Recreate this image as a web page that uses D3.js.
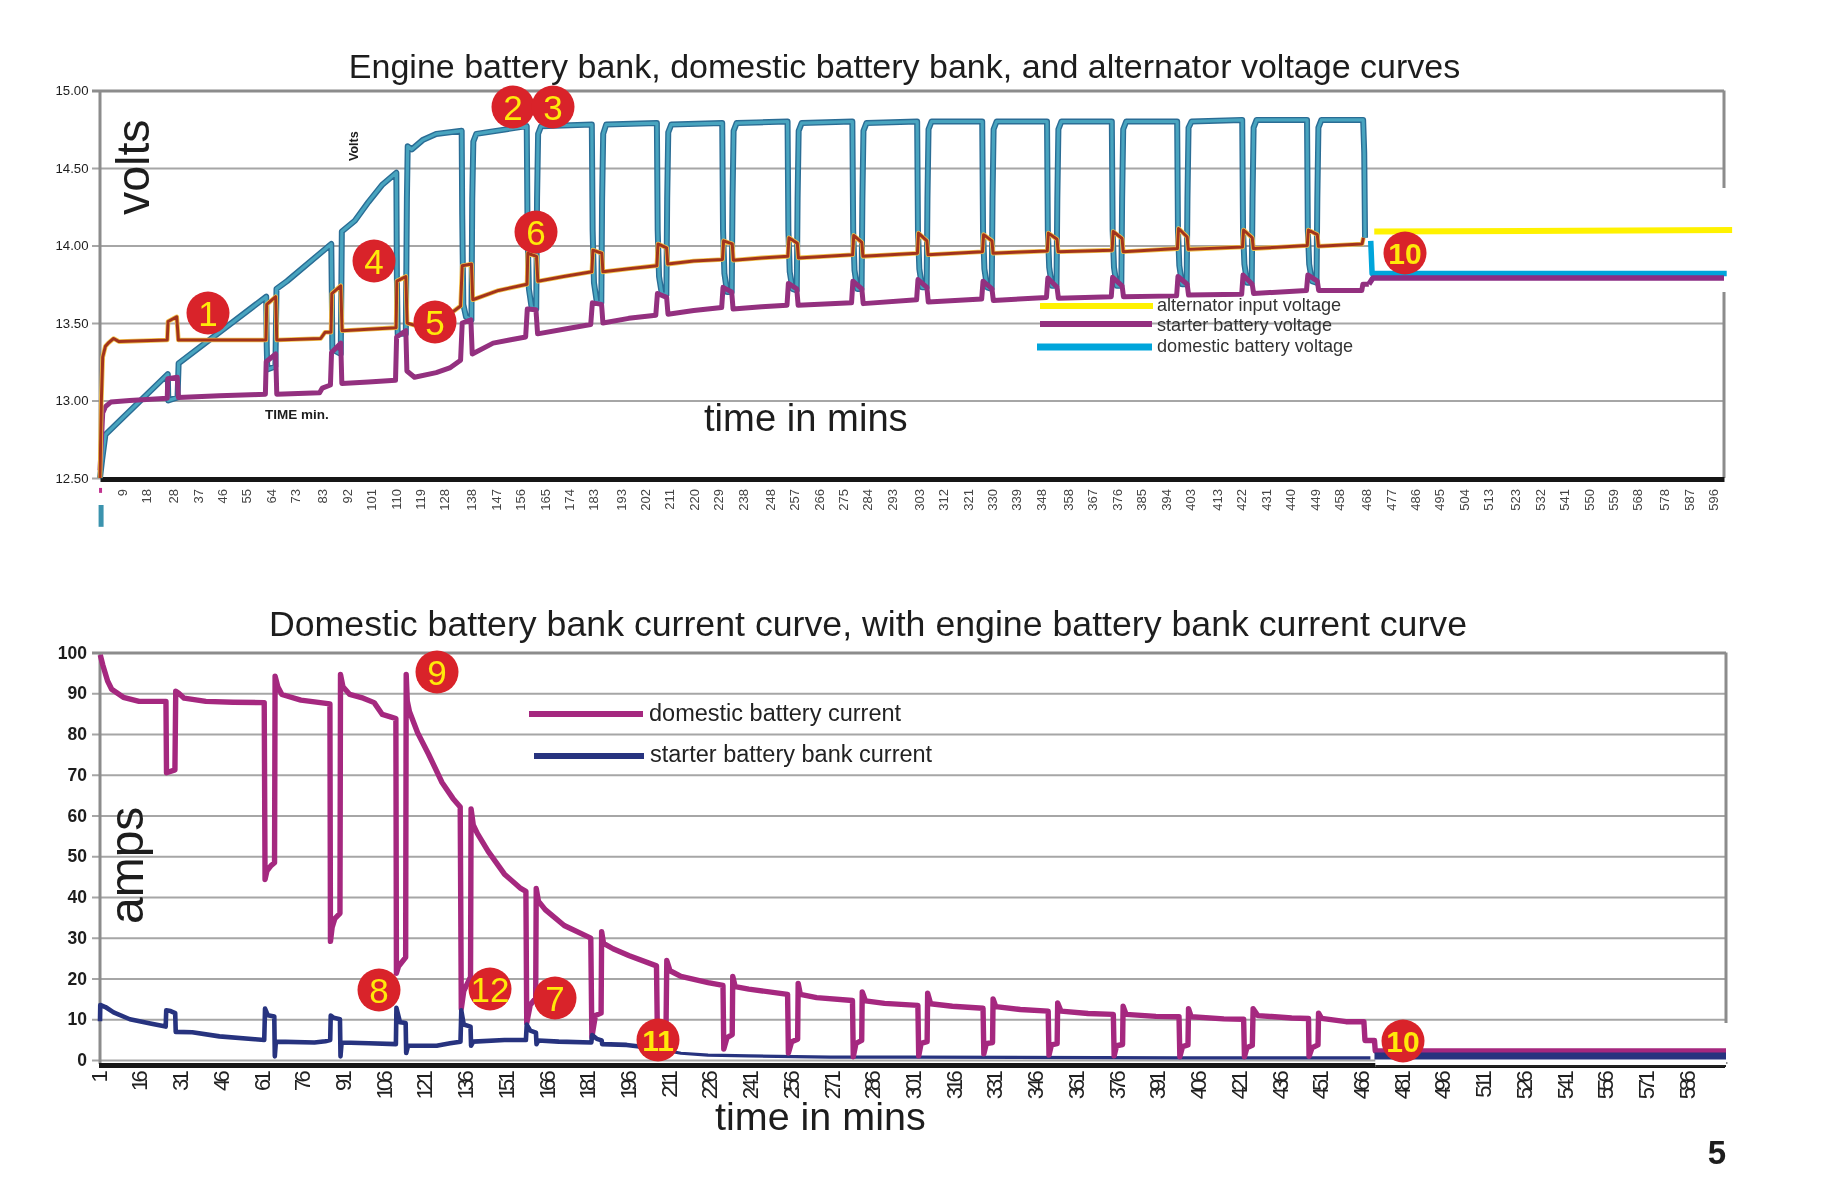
<!DOCTYPE html>
<html><head><meta charset="utf-8">
<script src="https://cdn.jsdelivr.net/npm/d3@7"></script>
<style>html,body{margin:0;padding:0;background:#fff}svg{display:block;filter:blur(0.45px)}text{font-family:"Liberation Sans",Arial,sans-serif}</style>
</head><body><div id="chart"></div>
<script>
// ---------- DATA ----------
const voltTicks=[12.5,13,13.5,14,14.5,15];
const ampTicks=[0,10,20,30,40,50,60,70,80,90,100];
const voltTimeLabels=[9,18,28,37,46,55,64,73,83,92,101,110,119,128,138,147,156,165,174,183,193,202,211,220,229,238,248,257,266,275,284,293,303,312,321,330,339,348,358,367,376,385,394,403,413,422,431,440,449,458,468,477,486,495,504,513,523,532,541,550,559,568,578,587,596];
const ampTimeLabels=[1,16,31,46,61,76,91,106,121,136,151,166,181,196,211,226,241,256,271,286,301,316,331,346,361,376,391,406,421,436,451,466,481,496,511,526,541,556,571,586];

const domesticVolts=[[1,12.5],[1.8,12.62],[3,12.78],[26,13.17],[26.2,13.0],[29.6,13.02],[30,13.24],[62.3,13.67],[62.5,13.35],[62.7,13.2],[65.7,13.22],[66.1,13.72],[70,13.77],[86.3,14.01],[86.5,13.7],[86.7,13.33],[89.8,13.3],[90.2,14.09],[95,14.16],[100,14.28],[105,14.39],[110.3,14.47],[110.5,13.8],[110.8,13.43],[113.8,13.43],[114.2,14.3],[114.5,14.64],[116,14.62],[120,14.68],[125,14.72],[134.4,14.74],[134.6,14.2],[135,13.62],[136,13.54],[138,13.52],[138.3,14.3],[138.7,14.67],[139.8,14.72],[158.4,14.77],[158.7,14.1],[159.2,13.72],[160.2,13.6],[161.9,13.59],[162.2,14.3],[162.6,14.72],[163.7,14.77],
[182.4,14.78],[182.7,14.1],[183.2,13.76],[184.2,13.64],[185.9,13.63],[186.2,14.3],[186.6,14.72],[187.7,14.78],
[206.4,14.79],[206.7,14.1],[207.2,13.8],[208.2,13.69],[209.9,13.68],[210.2,14.3],[210.6,14.73],[211.7,14.78],
[230.5,14.79],[230.8,14.1],[231.3,13.82],[232.3,13.7],[234,13.7],[234.3,14.3],[234.7,14.74],[235.8,14.79],
[254.6,14.8],[254.9,14.1],[255.4,13.83],[256.4,13.72],[258,13.71],[258.3,14.3],[258.7,14.74],[259.8,14.79],
[278.5,14.8],[278.8,14.1],[279.3,13.84],[280.3,13.72],[281.9,13.72],[282.2,14.3],[282.6,14.74],[283.7,14.79],
[302.4,14.8],[302.7,14.1],[303.2,13.85],[304.2,13.73],[305.9,13.73],[306.2,14.3],[306.6,14.75],[307.7,14.8],
[326.4,14.8],[326.7,14.1],[327.2,13.85],[328.2,13.73],[329.9,13.72],[330.2,14.3],[330.6,14.75],[331.7,14.8],
[350.3,14.8],[350.6,14.1],[351.1,13.86],[352.1,13.74],[353.8,13.74],[354.1,14.3],[354.5,14.75],[355.6,14.8],
[374.2,14.8],[374.5,14.1],[375,13.86],[376,13.74],[377.7,13.74],[378,14.3],[378.4,14.75],[379.5,14.8],
[398.3,14.8],[398.6,14.1],[399.1,13.87],[400.1,13.75],[401.8,13.75],[402.1,14.3],[402.5,14.76],[403.6,14.8],
[422.3,14.81],[422.6,14.1],[423.1,13.88],[424.1,13.76],[425.8,13.76],[426.1,14.3],[426.5,14.76],[427.6,14.81],
[446.2,14.81],[446.5,14.1],[447,13.88],[448,13.77],[449.7,13.76],[450,14.3],[450.4,14.76],[451.5,14.81],
[466.9,14.81],[467.3,14.6],[467.6,14.05]];

const starterVolts=[[1,12.55],[2,12.92],[3,12.96],[5,12.99],[12,13.0],[25.8,13.015],[26,13.14],[29.5,13.15],[29.9,13.02],[45,13.03],[62,13.04],[62.3,13.25],[65.8,13.3],[66.2,13.04],[82,13.05],[83,13.08],[86,13.1],[86.4,13.31],[89.8,13.37],[90.2,13.11],[100,13.12],[110,13.13],[110.4,13.41],[113.8,13.45],[114.2,13.19],[117,13.15],[125,13.18],[130,13.21],[134,13.26],[134.6,13.5],[137.8,13.52],[138.3,13.3],[146,13.37],[152,13.39],[158,13.41],[158.6,13.59],[161.8,13.585],[162.4,13.43],[172,13.46],[182,13.49],[182.6,13.63],[186,13.62],[186.5,13.5],[196,13.53],[206,13.55],[206.6,13.69],[210,13.665],[210.5,13.557],[220,13.58],[230.3,13.6],[230.8,13.73],[234,13.7],[234.5,13.59],[245,13.605],[254.4,13.615],[254.9,13.755],[258,13.72],[258.5,13.615],[278.2,13.63],[278.7,13.77],[282,13.72],[282.5,13.625],[302.2,13.65],[302.7,13.78],[306,13.73],[306.5,13.635],[326.2,13.655],[326.7,13.77],[330,13.72],[330.5,13.645],[350.1,13.665],[350.6,13.79],[354,13.73],[354.5,13.66],[374,13.67],[374.5,13.795],[378,13.74],[378.5,13.67],[398.1,13.675],[398.6,13.8],[402,13.75],[402.5,13.68],[422.1,13.685],[422.6,13.81],[426,13.75],[426.5,13.69],[446,13.71],[446.5,13.81],[450,13.77],[450.5,13.71],[466.4,13.71],[466.8,13.75],[469,13.75],[470.5,13.79],[600,13.79]];

const alternatorVolts=[[1,12.5],[1.5,13.0],[2,13.28],[3,13.35],[4,13.37],[6,13.4],[8,13.38],[25.8,13.39],[26.1,13.51],[29.3,13.54],[29.9,13.39],[62.2,13.39],[62.5,13.62],[65.8,13.67],[66.2,13.39],[82.4,13.4],[84,13.44],[86.2,13.44],[86.5,13.69],[89.8,13.74],[90.3,13.45],[100,13.46],[110.2,13.47],[110.5,13.77],[113.8,13.8],[114.3,13.5],[118,13.48],[125,13.52],[131,13.57],[134,13.61],[134.6,13.87],[138,13.88],[138.5,13.65],[148,13.71],[158.5,13.75],[158.8,13.95],[162,13.93],[162.5,13.77],[172,13.8],[182.4,13.83],[182.8,13.97],[186.1,13.95],[186.5,13.83],[196,13.85],[206.4,13.87],[206.8,14.01],[210,13.985],[210.4,13.88],[220,13.9],[230.6,13.91],[231,14.03],[234.2,14.01],[234.6,13.905],[245,13.92],[254.7,13.93],[255.1,14.05],[258.2,14.015],[258.6,13.92],[278.6,13.94],[279,14.065],[282,14.02],[282.4,13.93],[302.5,13.95],[302.9,14.08],[306,14.03],[306.4,13.94],[326.5,13.96],[326.9,14.07],[330,14.03],[330.4,13.95],[350.4,13.965],[350.8,14.08],[354,14.04],[354.4,13.96],[374.3,13.97],[374.7,14.09],[378,14.045],[378.4,13.96],[398.4,13.98],[398.8,14.11],[402,14.055],[402.4,13.975],[422.4,13.99],[422.8,14.1],[426,14.05],[426.4,13.98],[446.3,14.0],[446.7,14.1],[450,14.07],[450.4,13.995],[466.5,14.01],[467,14.05]];

const alternatorTail=[[471,14.09],[603,14.1]];
const domesticTail=[[469.7,14.03],[470.2,13.82],[601,13.82]];
const strayDomestic=[[1.4,12.326],[1.4,12.185]];
const strayStarter=[[1.2,12.436],[1.2,12.404]];

const domesticAmps=[[1.1,99.4],[2,97],[3.8,93],[5.3,91],[9.6,89],[15.4,88],[25.3,88],[25.5,70.5],[28.6,71.2],[28.9,90.5],[30,90],[32,88.8],[40,88],[50,87.8],[61.5,87.7],[61.8,44.3],[62.5,46.4],[64,47.7],[65.3,48.4],[65.5,94.2],[66.5,91.6],[68,89.7],[75,88.3],[85.7,87.4],[85.9,29.1],[86.5,32.5],[87.5,34.7],[89.4,36],[89.6,94.6],[90.5,91.6],[93,89.7],[98,88.8],[102,87.7],[105,84.8],[108,84.2],[110,83.8],[110.2,21.3],[111,23],[113.6,25.2],[113.8,94.6],[114.2,88.1],[115,85.5],[118,80.3],[122,75.1],[127,68.1],[131,64.2],[133.7,62.1],[134.1,12.6],[135,16.9],[137.5,20.4],[137.7,61.6],[138.5,57.7],[140,55.6],[144,51.2],[150,45.6],[156,42.1],[157.9,41.4],[158.2,9.1],[159.5,13.5],[161.5,15.2],[161.7,42.1],[162.5,39],[165,36.9],[172,33],[181.8,29.9],[182.2,5.6],[183.5,10.9],[185.6,11.5],[185.8,31.5],[186.5,28.6],[190,27.3],[196,25.6],[206,23.1],[206.4,3],[207.5,6],[209.5,7],[209.8,24.4],[211,21.9],[215,20.5],[225,19],[230.5,18.3],[230.8,2.7],[232,5.5],[233.9,6.2],[234.1,20.5],[235,18],[240,17.4],[254.3,16.1],[254.6,1.7],[255.8,4.5],[258,5.1],[258.2,18.8],[259,16.1],[265,15.3],[278.2,14.6],[278.5,0.8],[279.5,4.1],[281.6,4.8],[281.8,16.7],[283,14.5],[290,13.9],[302.3,13.4],[302.6,1],[303.5,4.1],[305.7,4.5],[305.9,16.4],[307,13.8],[315,13.2],[326.3,12.7],[326.6,1.5],[327.5,4],[329.8,4.3],[330,15],[331,13.1],[340,12.4],[350.3,12],[350.6,1.2],[351.5,3.7],[353.6,4],[353.8,14],[355,12],[365,11.4],[374.3,11.2],[374.6,1],[375.5,3.5],[377.7,3.8],[377.9,13.2],[379,11.2],[390,10.7],[398.5,10.6],[398.8,0.8],[399.8,3.3],[401.8,3.7],[402,12.6],[403,10.6],[415,10.1],[422.3,10],[422.6,0.8],[423.5,3],[425.5,3.6],[425.8,12.6],[427.5,10.9],[440,10.3],[446.2,10.2],[446.4,0.9],[447.5,3],[449.7,3.7],[449.9,11.5],[451,10.2],[460,9.4],[466.6,9.4],[467,4.8],[470.5,4.8],[470.8,2.2],[600,2.2]];

const starterAmps=[[1,9.5],[1.1,13.5],[3,13],[6,11.7],[12,10],[20,8.9],[25.2,8.2],[25.4,12.2],[27,12],[28.7,11.5],[28.9,6.9],[35,6.8],[45,5.8],[61.5,4.9],[61.8,12.6],[62.8,11],[65.2,10.7],[65.4,0.9],[65.8,4.5],[80,4.3],[84,4.6],[85.8,4.9],[86,10.9],[87,10.4],[89.4,10],[89.6,0.9],[90,4.3],[100,4.1],[110,3.9],[110.2,12.8],[111.5,9.3],[113.6,9.1],[113.8,1.7],[114.5,3.5],[125,3.5],[130,4.1],[133.8,4.5],[134.1,12.2],[135,8.7],[137.5,8.2],[137.7,3.5],[138.5,4.5],[150,4.9],[157.9,4.9],[158.2,8.7],[159.5,7.2],[161.6,6.7],[161.8,3.9],[162.5,4.8],[170,4.5],[182,4.3],[182.3,6.1],[184,5.2],[185.8,4.8],[186,3.9],[195,3.7],[206,2.8],[215,1.65],[225,1.2],[240,1],[270,0.7],[300,0.7],[400,0.5],[469,0.5],[470.5,1],[600,1]];

const badges=[
 {n:"1",x:208,y:313,b:0},{n:"2",x:513,y:107,b:0},{n:"3",x:553,y:107,b:0},{n:"4",x:374,y:261,b:0},{n:"5",x:435,y:322,b:0},{n:"6",x:536,y:232,b:0},{n:"10",x:1405,y:253,b:1},
 {n:"9",x:437,y:672,b:0},{n:"8",x:379,y:990,b:0},{n:"12",x:490,y:989,b:0},{n:"7",x:555,y:998,b:0},{n:"11",x:658,y:1040,b:1},{n:"10",x:1403,y:1041,b:1}];

const voltLegend=["alternator input voltage","starter battery voltage","domestic battery voltage"];
const ampLegend=["domestic battery current","starter battery bank current"];

// ---------- DRAW ----------
const W=1833,H=1203;
const svg=d3.select("#chart").append("svg").attr("width",W).attr("height",H);
const L=100,R1=1724,R2=1726;
const xV=d3.scaleLinear().domain([1,600]).range([L,R1]);
const yV=d3.scaleLinear().domain([12.5,15]).range([478,90.5]);
const xA=d3.scaleLinear().domain([1,600]).range([L,R2]);
const yA=d3.scaleLinear().domain([0,100]).range([1060,652.5]);
const GRID="#a6a6a6",FRAME="#8c8c8c",TXT="#1d1d1d";
const line=(x,y)=>d3.line().x(d=>x(d[0])).y(d=>y(d[1]));
const lv=line(xV,yV),la=line(xA,yA);
function stroke(g,d,gen,color,w){g.append("path").attr("d",gen(d)).attr("fill","none").attr("stroke",color).attr("stroke-width",w).attr("stroke-linejoin","round");}
function text(s,x,y,size,o={}){const t=svg.append("text").attr("x",x).attr("y",y).attr("font-size",size).attr("fill",o.fill||TXT).attr("font-weight",o.bold?"bold":"normal").attr("text-anchor",o.anchor||"start").text(s);if(o.rot!=null)t.attr("transform",`rotate(${o.rot} ${x} ${y})`);return t;}

function frame(y,x,R,fmt,ticks,size,bold,labelX){
  const g=svg.append("g");
  const ax=d3.axisLeft(y).tickValues(ticks).tickSize(0).tickFormat(fmt);
  const a=g.append("g").attr("transform",`translate(${L},0)`).call(ax);
  a.select(".domain").remove();
  a.selectAll(".tick").each(function(v){
    const t=d3.select(this);
    t.select("line").attr("x1",-8).attr("x2",R-L).attr("stroke",v===y.domain()[1]?FRAME:GRID).attr("stroke-width",v===y.domain()[1]?3:2);
    t.select("text").attr("x",labelX-L).attr("font-size",size).attr("font-weight",bold?"bold":"normal").attr("fill",TXT).attr("font-family",'"Liberation Sans",Arial,sans-serif');
  });
  return g;
}
// --- top chart
frame(yV,xV,R1,d3.format(".2f"),voltTicks,13.2,false,88.5);
svg.append("line").attr("x1",L).attr("x2",L).attr("y1",yV(15)).attr("y2",yV(12.5)).attr("stroke",FRAME).attr("stroke-width",3);
svg.append("line").attr("x1",R1).attr("x2",R1).attr("y1",yV(15)).attr("y2",yV(12.5)).attr("stroke",FRAME).attr("stroke-width",3);
const xAxisV=svg.append("g").attr("transform",`translate(0,479)`).call(d3.axisBottom(xV).tickValues(voltTimeLabels).tickSize(0).tickFormat(d3.format("d")));
xAxisV.select(".domain").attr("stroke","#161616").attr("stroke-width",5);
xAxisV.selectAll("text").attr("transform","rotate(-90)").attr("x",-10).attr("y",0).attr("dy","0.35em").attr("text-anchor","end").attr("font-size",13).attr("fill","#444").attr("font-family",'"Liberation Sans",Arial,sans-serif');

const gV=svg.append("g");
stroke(gV,domesticVolts,lv,"#2a6d95",6);
stroke(gV,domesticVolts,lv,"#48a4bf",3.2);
stroke(gV,starterVolts.filter(d=>d[0]<=469),lv,"#93307f",5);
stroke(gV,alternatorVolts,lv,"#f2c24a",4.6);
stroke(gV,alternatorVolts,lv,"#a2331c",3);
stroke(gV,strayDomestic,lv,"#3b93ae",5);
stroke(gV,strayStarter,lv,"#c0328f",3);

// white patch that hides the end of the original plot
svg.append("rect").attr("x",xV(470.5)).attr("y",188).attr("width",1743-xV(470.5)).attr("height",104).attr("fill","#fff");
const tailG=svg.append("g");
stroke(tailG,domesticTail,lv,"#00a5db",5.5);
stroke(tailG,alternatorTail,lv,"#fff200",6);
stroke(tailG,starterVolts.filter(d=>d[0]>=469),lv,"#8c2e84",5.5);

text("Engine battery bank, domestic battery bank, and alternator voltage curves",904.5,78,34,{anchor:"middle"});
text("volts",149,215,46.5,{rot:-90});
text("Volts",358,161,12.5,{rot:-90,bold:true});
text("TIME min.",265,419,13.5,{bold:true});
text("time in mins",704,431,38.2);

const voltLegendRows=[{c:"#fff200",x1:1040,x2:1153,y:306,w:6,ty:311},{c:"#93307f",x1:1040,x2:1152,y:324,w:6,ty:331},{c:"#00a5db",x1:1037,x2:1152,y:347,w:7,ty:352}];
voltLegendRows.forEach((r,i)=>{svg.append("line").attr("x1",r.x1).attr("x2",r.x2).attr("y1",r.y).attr("y2",r.y).attr("stroke",r.c).attr("stroke-width",r.w);text(voltLegend[i],1157,r.ty,18.1,{fill:"#333"});});

// --- bottom chart
frame(yA,xA,R2,d3.format("d"),ampTicks,17.5,true,87);
svg.append("line").attr("x1",L).attr("x2",L).attr("y1",yA(100)).attr("y2",1064).attr("stroke",FRAME).attr("stroke-width",3);
svg.append("line").attr("x1",R2).attr("x2",R2).attr("y1",yA(100)).attr("y2",1064).attr("stroke",FRAME).attr("stroke-width",3);
const xAxisA=svg.append("g").attr("transform",`translate(-1.5,1065)`).call(d3.axisBottom(xA).tickValues(ampTimeLabels).tickSize(0).tickFormat(d3.format("d")));
xAxisA.select(".domain").attr("stroke","#161616").attr("stroke-width",5);
xAxisA.selectAll("text").attr("transform","rotate(-90)").attr("x",-9).attr("y",0).attr("dy","0.35em").attr("text-anchor","end").attr("font-size",22).attr("letter-spacing","-3.8px").attr("fill","#222").attr("font-family",'"Liberation Sans",Arial,sans-serif');

// white patch over the end of the lower plot
svg.append("rect").attr("x",xA(470.8)).attr("y",1023).attr("width",1735-xA(470.8)).attr("height",39).attr("fill","#fff");
svg.append("rect").attr("x",xA(470.8)).attr("y",1062).attr("width",R2-xA(470.8)).attr("height",5).attr("fill","#fff");
svg.append("line").attr("x1",xA(470.8)).attr("x2",R2).attr("y1",1066).attr("y2",1066).attr("stroke","#222").attr("stroke-width",2);

const gA=svg.append("g");
stroke(gA,starterAmps.filter(d=>d[0]>=206&&d[0]<=469),la,"#27337f",3.2);
stroke(gA,domesticAmps,la,"#a5287f",5.4);
stroke(gA,starterAmps.filter(d=>d[0]<=206),la,"#27337f",4.6);
stroke(gA,starterAmps.filter(d=>d[0]>=470),la,"#27337f",7);

text("Domestic battery bank current curve, with engine battery bank current curve",868,636,35.7,{anchor:"middle"});
text("amps",143,924,48,{rot:-90});
text("time in mins",715,1130,39.5);
const ampLegendRows=[{c:"#a5287f",x1:529,x2:643,y:714,w:6,tx:649,ty:721,s:23.5},{c:"#27337f",x1:534,x2:644,y:756,w:6,tx:650,ty:762,s:23.5}];
ampLegendRows.forEach((r,i)=>{svg.append("line").attr("x1",r.x1).attr("x2",r.x2).attr("y1",r.y).attr("y2",r.y).attr("stroke",r.c).attr("stroke-width",r.w);text(ampLegend[i],r.tx,r.ty,r.s,{fill:"#222"});});

text("5",1726,1164,33,{anchor:"end",bold:true});

// --- numbered badges
const bg=svg.append("g").selectAll("g").data(badges).join("g").attr("transform",d=>`translate(${d.x},${d.y})`);
bg.append("circle").attr("r",21.5).attr("fill","#d9232a");
bg.append("text").attr("text-anchor","middle").attr("dy","0.36em").attr("fill","#ffe90a").attr("font-size",d=>d.b?30:35).attr("font-weight",d=>d.b?"bold":"normal").text(d=>d.n);
</script></body></html>
